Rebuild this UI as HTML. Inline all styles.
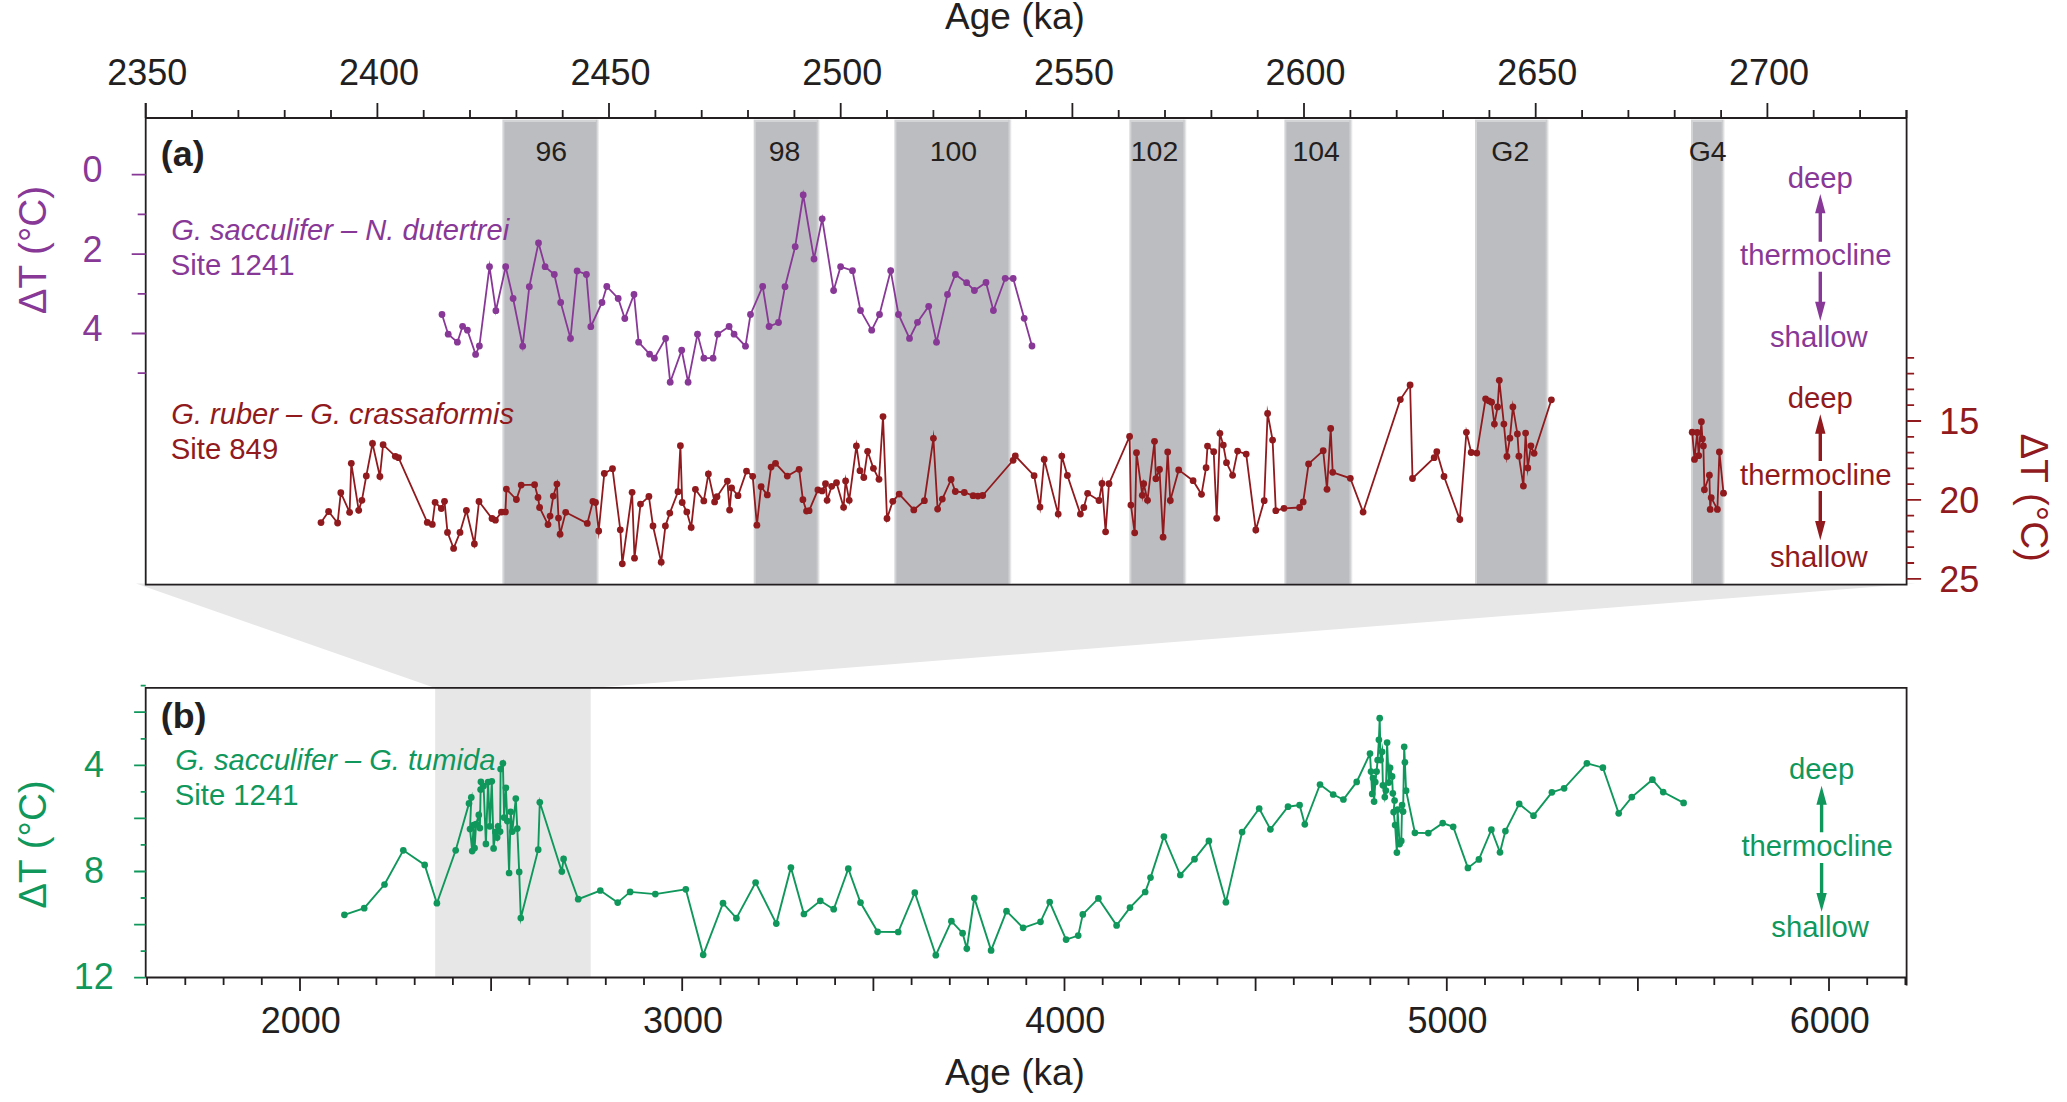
<!DOCTYPE html>
<html lang="en"><head><meta charset="utf-8"><title>Thermocline depth ΔT records</title>
<style>html,body{margin:0;padding:0;background:#fff}svg{display:block}</style></head>
<body>
<svg width="2067" height="1102" viewBox="0 0 2067 1102" font-family='"Liberation Sans", sans-serif'>
<rect width="2067" height="1102" fill="#fff"/>
<polygon points="136,583.6 1916,583.6 590.7,687.9 435.2,687.9" fill="#e7e7e8"/>
<rect x="435.2" y="687.9" width="155.5" height="289.6" fill="#e7e7e8"/>
<defs><linearGradient id="gr" x1="0" x2="1" y1="0" y2="0"><stop offset="0" stop-color="#bcbdc0"/><stop offset="1" stop-color="#fff"/></linearGradient></defs>
<rect x="502.4" y="119.6" width="93.6" height="465.1" fill="#d3d4d6"/>
<rect x="504.4" y="122.0" width="91.6" height="462.7" fill="#bcbdc0"/>
<rect x="595.9" y="119.6" width="3.6" height="465.1" fill="url(#gr)"/>
<rect x="753.7" y="119.6" width="63.0" height="465.1" fill="#d3d4d6"/>
<rect x="755.7" y="122.0" width="61.0" height="462.7" fill="#bcbdc0"/>
<rect x="816.6" y="119.6" width="3.6" height="465.1" fill="url(#gr)"/>
<rect x="894.4" y="119.6" width="114.0" height="465.1" fill="#d3d4d6"/>
<rect x="896.4" y="122.0" width="112.0" height="462.7" fill="#bcbdc0"/>
<rect x="1008.3" y="119.6" width="3.6" height="465.1" fill="url(#gr)"/>
<rect x="1129.4" y="119.6" width="54.0" height="465.1" fill="#d3d4d6"/>
<rect x="1131.4" y="122.0" width="52.0" height="462.7" fill="#bcbdc0"/>
<rect x="1183.3" y="119.6" width="3.6" height="465.1" fill="url(#gr)"/>
<rect x="1284.4" y="119.6" width="65.0" height="465.1" fill="#d3d4d6"/>
<rect x="1286.4" y="122.0" width="63.0" height="462.7" fill="#bcbdc0"/>
<rect x="1349.3" y="119.6" width="3.6" height="465.1" fill="url(#gr)"/>
<rect x="1475.0" y="119.6" width="70.7" height="465.1" fill="#d3d4d6"/>
<rect x="1477.0" y="122.0" width="68.7" height="462.7" fill="#bcbdc0"/>
<rect x="1545.6" y="119.6" width="3.6" height="465.1" fill="url(#gr)"/>
<rect x="1691.0" y="119.6" width="30.7" height="465.1" fill="#d3d4d6"/>
<rect x="1693.0" y="122.0" width="28.7" height="462.7" fill="#bcbdc0"/>
<rect x="1721.6" y="119.6" width="3.6" height="465.1" fill="url(#gr)"/>
<polyline fill="none" stroke="#883896" stroke-width="1.8" stroke-linejoin="miter" stroke-miterlimit="10" points="442.0,314.5 448.2,334.2 457.4,342.2 462.6,326.3 467.4,330.2 475.6,354.4 479.4,346.0 489.5,266.7 495.9,310.7 505.7,266.7 513.1,298.5 522.7,346.2 529.3,286.7 538.5,242.9 545.1,266.7 554.3,274.5 560.7,302.5 570.5,338.4 577.1,270.9 586.4,274.5 590.8,326.7 602.0,302.5 606.8,286.5 618.2,298.5 624.8,318.5 634.0,294.5 638.6,342.2 649.6,354.2 654.4,358.2 665.6,338.4 670.2,382.2 681.7,350.2 688.1,382.2 697.5,334.2 703.9,358.2 713.1,358.2 717.7,334.2 729.1,326.5 734.1,334.2 745.5,346.2 750.5,314.5 762.7,286.5 769.1,326.5 778.5,322.5 785.0,286.7 795.2,246.7 803.2,195.0 814.0,258.9 822.2,218.8 833.6,290.5 840.6,266.7 852.5,270.7 860.5,310.5 871.7,330.2 879.5,314.5 890.7,270.7 898.5,314.5 909.5,338.4 917.5,322.3 928.7,306.3 936.5,342.2 947.5,294.5 955.4,274.5 966.6,282.7 974.4,290.5 986.0,282.5 993.4,310.5 1005.2,278.3 1013.2,278.5 1024.2,318.3 1032.0,346.0"/><g fill="#883896"><circle cx="442.0" cy="314.5" r="3.4"/><circle cx="448.2" cy="334.2" r="3.4"/><circle cx="457.4" cy="342.2" r="3.4"/><circle cx="462.6" cy="326.3" r="3.4"/><circle cx="467.4" cy="330.2" r="3.4"/><circle cx="475.6" cy="354.4" r="3.4"/><circle cx="479.4" cy="346.0" r="3.4"/><circle cx="489.5" cy="266.7" r="3.4"/><circle cx="495.9" cy="310.7" r="3.4"/><circle cx="505.7" cy="266.7" r="3.4"/><circle cx="513.1" cy="298.5" r="3.4"/><circle cx="522.7" cy="346.2" r="3.4"/><circle cx="529.3" cy="286.7" r="3.4"/><circle cx="538.5" cy="242.9" r="3.4"/><circle cx="545.1" cy="266.7" r="3.4"/><circle cx="554.3" cy="274.5" r="3.4"/><circle cx="560.7" cy="302.5" r="3.4"/><circle cx="570.5" cy="338.4" r="3.4"/><circle cx="577.1" cy="270.9" r="3.4"/><circle cx="586.4" cy="274.5" r="3.4"/><circle cx="590.8" cy="326.7" r="3.4"/><circle cx="602.0" cy="302.5" r="3.4"/><circle cx="606.8" cy="286.5" r="3.4"/><circle cx="618.2" cy="298.5" r="3.4"/><circle cx="624.8" cy="318.5" r="3.4"/><circle cx="634.0" cy="294.5" r="3.4"/><circle cx="638.6" cy="342.2" r="3.4"/><circle cx="649.6" cy="354.2" r="3.4"/><circle cx="654.4" cy="358.2" r="3.4"/><circle cx="665.6" cy="338.4" r="3.4"/><circle cx="670.2" cy="382.2" r="3.4"/><circle cx="681.7" cy="350.2" r="3.4"/><circle cx="688.1" cy="382.2" r="3.4"/><circle cx="697.5" cy="334.2" r="3.4"/><circle cx="703.9" cy="358.2" r="3.4"/><circle cx="713.1" cy="358.2" r="3.4"/><circle cx="717.7" cy="334.2" r="3.4"/><circle cx="729.1" cy="326.5" r="3.4"/><circle cx="734.1" cy="334.2" r="3.4"/><circle cx="745.5" cy="346.2" r="3.4"/><circle cx="750.5" cy="314.5" r="3.4"/><circle cx="762.7" cy="286.5" r="3.4"/><circle cx="769.1" cy="326.5" r="3.4"/><circle cx="778.5" cy="322.5" r="3.4"/><circle cx="785.0" cy="286.7" r="3.4"/><circle cx="795.2" cy="246.7" r="3.4"/><circle cx="803.2" cy="195.0" r="3.4"/><circle cx="814.0" cy="258.9" r="3.4"/><circle cx="822.2" cy="218.8" r="3.4"/><circle cx="833.6" cy="290.5" r="3.4"/><circle cx="840.6" cy="266.7" r="3.4"/><circle cx="852.5" cy="270.7" r="3.4"/><circle cx="860.5" cy="310.5" r="3.4"/><circle cx="871.7" cy="330.2" r="3.4"/><circle cx="879.5" cy="314.5" r="3.4"/><circle cx="890.7" cy="270.7" r="3.4"/><circle cx="898.5" cy="314.5" r="3.4"/><circle cx="909.5" cy="338.4" r="3.4"/><circle cx="917.5" cy="322.3" r="3.4"/><circle cx="928.7" cy="306.3" r="3.4"/><circle cx="936.5" cy="342.2" r="3.4"/><circle cx="947.5" cy="294.5" r="3.4"/><circle cx="955.4" cy="274.5" r="3.4"/><circle cx="966.6" cy="282.7" r="3.4"/><circle cx="974.4" cy="290.5" r="3.4"/><circle cx="986.0" cy="282.5" r="3.4"/><circle cx="993.4" cy="310.5" r="3.4"/><circle cx="1005.2" cy="278.3" r="3.4"/><circle cx="1013.2" cy="278.5" r="3.4"/><circle cx="1024.2" cy="318.3" r="3.4"/><circle cx="1032.0" cy="346.0" r="3.4"/></g>
<polyline fill="none" stroke="#901a1d" stroke-width="1.8" stroke-linejoin="miter" stroke-miterlimit="10" points="321.0,522.6 328.6,511.5 337.6,523.0 340.8,492.7 349.6,512.3 351.3,463.3 358.7,510.3 361.9,500.3 366.3,475.9 372.5,443.5 379.9,476.5 383.1,444.7 395.3,456.3 398.5,457.7 427.3,522.4 432.3,524.4 435.1,502.3 441.3,508.5 444.5,501.3 447.5,532.4 453.6,548.4 460.0,532.4 466.4,510.5 474.4,544.0 479.0,501.5 492.0,518.5 495.4,520.2 501.4,512.1 505.4,511.9 506.4,489.1 516.4,499.5 521.2,485.1 534.6,484.7 538.0,497.5 539.6,507.5 548.0,524.6 550.1,516.1 553.3,496.1 556.9,484.1 558.5,518.1 560.1,534.2 565.7,512.3 587.3,523.4 592.9,501.5 595.5,502.5 598.7,531.0 604.3,473.5 612.5,468.7 620.3,529.8 622.3,563.8 632.1,492.3 634.5,558.2 640.5,504.1 648.9,496.5 653.0,526.0 661.2,562.2 665.4,526.0 669.8,513.1 678.0,491.7 680.4,445.7 682.2,502.5 686.8,511.9 691.2,527.4 695.4,489.3 703.8,500.9 708.4,473.9 714.6,501.9 717.0,496.7 727.4,481.1 729.6,510.1 731.6,487.9 738.0,495.7 746.5,471.1 752.7,476.3 756.9,525.2 761.1,486.7 767.3,494.9 771.1,467.1 775.5,463.3 787.3,476.1 799.1,469.3 802.9,499.7 806.5,511.1 809.1,510.7 817.9,489.9 822.1,490.9 825.5,483.7 827.1,500.3 831.7,486.3 836.5,482.7 843.6,507.3 845.6,480.9 849.2,500.3 856.4,445.9 860.0,470.7 863.8,477.5 867.6,451.3 873.4,468.3 879.0,479.3 883.0,416.6 887.0,518.5 892.8,501.3 899.2,494.1 913.8,509.9 924.4,500.7 933.4,438.3 937.6,509.1 942.3,499.1 951.1,479.5 955.3,491.5 964.3,492.5 973.1,495.7 977.9,496.1 982.7,495.5 1013.1,460.3 1015.3,455.9 1034.1,475.7 1040.0,507.1 1044.2,459.5 1058.2,514.1 1061.8,456.1 1067.4,475.5 1080.4,514.1 1083.8,507.5 1087.6,493.3 1099.0,500.5 1102.0,483.5 1105.6,531.8 1109.0,483.7 1129.6,436.5 1130.9,505.1 1134.7,532.8 1136.5,452.7 1142.3,495.3 1143.7,483.7 1147.5,500.3 1154.5,441.3 1155.9,478.7 1159.5,469.5 1163.1,537.2 1167.7,451.9 1170.3,500.5 1178.7,469.9 1193.1,480.7 1201.5,494.3 1206.1,467.7 1207.5,446.1 1213.7,451.7 1216.7,518.3 1219.9,433.3 1223.3,445.1 1226.5,462.7 1232.6,475.3 1237.6,451.1 1246.2,454.1 1255.8,530.0 1264.2,500.7 1267.6,413.4 1272.6,440.1 1275.8,510.7 1284.0,508.3 1299.6,507.5 1303.2,501.9 1308.6,463.9 1323.2,450.7 1327.0,489.3 1330.7,428.5 1332.7,472.3 1350.3,478.3 1363.1,512.1 1400.3,399.6 1410.1,385.0 1412.5,478.5 1434.2,457.7 1436.8,451.7 1444.0,476.5 1459.8,519.5 1466.4,432.3 1471.2,452.5 1476.8,453.1 1485.6,398.8 1488.8,400.8 1491.6,402.2 1494.4,424.1 1497.6,406.9 1499.3,380.3 1503.9,424.1 1506.9,456.4 1509.9,438.2 1512.9,406.9 1517.4,433.9 1518.9,456.2 1523.4,486.0 1525.6,433.1 1527.8,467.9 1530.9,445.8 1534.1,453.3 1551.4,399.8"/><g fill="#901a1d"><circle cx="321.0" cy="522.6" r="3.4"/><circle cx="328.6" cy="511.5" r="3.4"/><circle cx="337.6" cy="523.0" r="3.4"/><circle cx="340.8" cy="492.7" r="3.4"/><circle cx="349.6" cy="512.3" r="3.4"/><circle cx="351.3" cy="463.3" r="3.4"/><circle cx="358.7" cy="510.3" r="3.4"/><circle cx="361.9" cy="500.3" r="3.4"/><circle cx="366.3" cy="475.9" r="3.4"/><circle cx="372.5" cy="443.5" r="3.4"/><circle cx="379.9" cy="476.5" r="3.4"/><circle cx="383.1" cy="444.7" r="3.4"/><circle cx="395.3" cy="456.3" r="3.4"/><circle cx="398.5" cy="457.7" r="3.4"/><circle cx="427.3" cy="522.4" r="3.4"/><circle cx="432.3" cy="524.4" r="3.4"/><circle cx="435.1" cy="502.3" r="3.4"/><circle cx="441.3" cy="508.5" r="3.4"/><circle cx="444.5" cy="501.3" r="3.4"/><circle cx="447.5" cy="532.4" r="3.4"/><circle cx="453.6" cy="548.4" r="3.4"/><circle cx="460.0" cy="532.4" r="3.4"/><circle cx="466.4" cy="510.5" r="3.4"/><circle cx="474.4" cy="544.0" r="3.4"/><circle cx="479.0" cy="501.5" r="3.4"/><circle cx="492.0" cy="518.5" r="3.4"/><circle cx="495.4" cy="520.2" r="3.4"/><circle cx="501.4" cy="512.1" r="3.4"/><circle cx="505.4" cy="511.9" r="3.4"/><circle cx="506.4" cy="489.1" r="3.4"/><circle cx="516.4" cy="499.5" r="3.4"/><circle cx="521.2" cy="485.1" r="3.4"/><circle cx="534.6" cy="484.7" r="3.4"/><circle cx="538.0" cy="497.5" r="3.4"/><circle cx="539.6" cy="507.5" r="3.4"/><circle cx="548.0" cy="524.6" r="3.4"/><circle cx="550.1" cy="516.1" r="3.4"/><circle cx="553.3" cy="496.1" r="3.4"/><circle cx="556.9" cy="484.1" r="3.4"/><circle cx="558.5" cy="518.1" r="3.4"/><circle cx="560.1" cy="534.2" r="3.4"/><circle cx="565.7" cy="512.3" r="3.4"/><circle cx="587.3" cy="523.4" r="3.4"/><circle cx="592.9" cy="501.5" r="3.4"/><circle cx="595.5" cy="502.5" r="3.4"/><circle cx="598.7" cy="531.0" r="3.4"/><circle cx="604.3" cy="473.5" r="3.4"/><circle cx="612.5" cy="468.7" r="3.4"/><circle cx="620.3" cy="529.8" r="3.4"/><circle cx="622.3" cy="563.8" r="3.4"/><circle cx="632.1" cy="492.3" r="3.4"/><circle cx="634.5" cy="558.2" r="3.4"/><circle cx="640.5" cy="504.1" r="3.4"/><circle cx="648.9" cy="496.5" r="3.4"/><circle cx="653.0" cy="526.0" r="3.4"/><circle cx="661.2" cy="562.2" r="3.4"/><circle cx="665.4" cy="526.0" r="3.4"/><circle cx="669.8" cy="513.1" r="3.4"/><circle cx="678.0" cy="491.7" r="3.4"/><circle cx="680.4" cy="445.7" r="3.4"/><circle cx="682.2" cy="502.5" r="3.4"/><circle cx="686.8" cy="511.9" r="3.4"/><circle cx="691.2" cy="527.4" r="3.4"/><circle cx="695.4" cy="489.3" r="3.4"/><circle cx="703.8" cy="500.9" r="3.4"/><circle cx="708.4" cy="473.9" r="3.4"/><circle cx="714.6" cy="501.9" r="3.4"/><circle cx="717.0" cy="496.7" r="3.4"/><circle cx="727.4" cy="481.1" r="3.4"/><circle cx="729.6" cy="510.1" r="3.4"/><circle cx="731.6" cy="487.9" r="3.4"/><circle cx="738.0" cy="495.7" r="3.4"/><circle cx="746.5" cy="471.1" r="3.4"/><circle cx="752.7" cy="476.3" r="3.4"/><circle cx="756.9" cy="525.2" r="3.4"/><circle cx="761.1" cy="486.7" r="3.4"/><circle cx="767.3" cy="494.9" r="3.4"/><circle cx="771.1" cy="467.1" r="3.4"/><circle cx="775.5" cy="463.3" r="3.4"/><circle cx="787.3" cy="476.1" r="3.4"/><circle cx="799.1" cy="469.3" r="3.4"/><circle cx="802.9" cy="499.7" r="3.4"/><circle cx="806.5" cy="511.1" r="3.4"/><circle cx="809.1" cy="510.7" r="3.4"/><circle cx="817.9" cy="489.9" r="3.4"/><circle cx="822.1" cy="490.9" r="3.4"/><circle cx="825.5" cy="483.7" r="3.4"/><circle cx="827.1" cy="500.3" r="3.4"/><circle cx="831.7" cy="486.3" r="3.4"/><circle cx="836.5" cy="482.7" r="3.4"/><circle cx="843.6" cy="507.3" r="3.4"/><circle cx="845.6" cy="480.9" r="3.4"/><circle cx="849.2" cy="500.3" r="3.4"/><circle cx="856.4" cy="445.9" r="3.4"/><circle cx="860.0" cy="470.7" r="3.4"/><circle cx="863.8" cy="477.5" r="3.4"/><circle cx="867.6" cy="451.3" r="3.4"/><circle cx="873.4" cy="468.3" r="3.4"/><circle cx="879.0" cy="479.3" r="3.4"/><circle cx="883.0" cy="416.6" r="3.4"/><circle cx="887.0" cy="518.5" r="3.4"/><circle cx="892.8" cy="501.3" r="3.4"/><circle cx="899.2" cy="494.1" r="3.4"/><circle cx="913.8" cy="509.9" r="3.4"/><circle cx="924.4" cy="500.7" r="3.4"/><circle cx="933.4" cy="438.3" r="3.4"/><circle cx="937.6" cy="509.1" r="3.4"/><circle cx="942.3" cy="499.1" r="3.4"/><circle cx="951.1" cy="479.5" r="3.4"/><circle cx="955.3" cy="491.5" r="3.4"/><circle cx="964.3" cy="492.5" r="3.4"/><circle cx="973.1" cy="495.7" r="3.4"/><circle cx="977.9" cy="496.1" r="3.4"/><circle cx="982.7" cy="495.5" r="3.4"/><circle cx="1013.1" cy="460.3" r="3.4"/><circle cx="1015.3" cy="455.9" r="3.4"/><circle cx="1034.1" cy="475.7" r="3.4"/><circle cx="1040.0" cy="507.1" r="3.4"/><circle cx="1044.2" cy="459.5" r="3.4"/><circle cx="1058.2" cy="514.1" r="3.4"/><circle cx="1061.8" cy="456.1" r="3.4"/><circle cx="1067.4" cy="475.5" r="3.4"/><circle cx="1080.4" cy="514.1" r="3.4"/><circle cx="1083.8" cy="507.5" r="3.4"/><circle cx="1087.6" cy="493.3" r="3.4"/><circle cx="1099.0" cy="500.5" r="3.4"/><circle cx="1102.0" cy="483.5" r="3.4"/><circle cx="1105.6" cy="531.8" r="3.4"/><circle cx="1109.0" cy="483.7" r="3.4"/><circle cx="1129.6" cy="436.5" r="3.4"/><circle cx="1130.9" cy="505.1" r="3.4"/><circle cx="1134.7" cy="532.8" r="3.4"/><circle cx="1136.5" cy="452.7" r="3.4"/><circle cx="1142.3" cy="495.3" r="3.4"/><circle cx="1143.7" cy="483.7" r="3.4"/><circle cx="1147.5" cy="500.3" r="3.4"/><circle cx="1154.5" cy="441.3" r="3.4"/><circle cx="1155.9" cy="478.7" r="3.4"/><circle cx="1159.5" cy="469.5" r="3.4"/><circle cx="1163.1" cy="537.2" r="3.4"/><circle cx="1167.7" cy="451.9" r="3.4"/><circle cx="1170.3" cy="500.5" r="3.4"/><circle cx="1178.7" cy="469.9" r="3.4"/><circle cx="1193.1" cy="480.7" r="3.4"/><circle cx="1201.5" cy="494.3" r="3.4"/><circle cx="1206.1" cy="467.7" r="3.4"/><circle cx="1207.5" cy="446.1" r="3.4"/><circle cx="1213.7" cy="451.7" r="3.4"/><circle cx="1216.7" cy="518.3" r="3.4"/><circle cx="1219.9" cy="433.3" r="3.4"/><circle cx="1223.3" cy="445.1" r="3.4"/><circle cx="1226.5" cy="462.7" r="3.4"/><circle cx="1232.6" cy="475.3" r="3.4"/><circle cx="1237.6" cy="451.1" r="3.4"/><circle cx="1246.2" cy="454.1" r="3.4"/><circle cx="1255.8" cy="530.0" r="3.4"/><circle cx="1264.2" cy="500.7" r="3.4"/><circle cx="1267.6" cy="413.4" r="3.4"/><circle cx="1272.6" cy="440.1" r="3.4"/><circle cx="1275.8" cy="510.7" r="3.4"/><circle cx="1284.0" cy="508.3" r="3.4"/><circle cx="1299.6" cy="507.5" r="3.4"/><circle cx="1303.2" cy="501.9" r="3.4"/><circle cx="1308.6" cy="463.9" r="3.4"/><circle cx="1323.2" cy="450.7" r="3.4"/><circle cx="1327.0" cy="489.3" r="3.4"/><circle cx="1330.7" cy="428.5" r="3.4"/><circle cx="1332.7" cy="472.3" r="3.4"/><circle cx="1350.3" cy="478.3" r="3.4"/><circle cx="1363.1" cy="512.1" r="3.4"/><circle cx="1400.3" cy="399.6" r="3.4"/><circle cx="1410.1" cy="385.0" r="3.4"/><circle cx="1412.5" cy="478.5" r="3.4"/><circle cx="1434.2" cy="457.7" r="3.4"/><circle cx="1436.8" cy="451.7" r="3.4"/><circle cx="1444.0" cy="476.5" r="3.4"/><circle cx="1459.8" cy="519.5" r="3.4"/><circle cx="1466.4" cy="432.3" r="3.4"/><circle cx="1471.2" cy="452.5" r="3.4"/><circle cx="1476.8" cy="453.1" r="3.4"/><circle cx="1485.6" cy="398.8" r="3.4"/><circle cx="1488.8" cy="400.8" r="3.4"/><circle cx="1491.6" cy="402.2" r="3.4"/><circle cx="1494.4" cy="424.1" r="3.4"/><circle cx="1497.6" cy="406.9" r="3.4"/><circle cx="1499.3" cy="380.3" r="3.4"/><circle cx="1503.9" cy="424.1" r="3.4"/><circle cx="1506.9" cy="456.4" r="3.4"/><circle cx="1509.9" cy="438.2" r="3.4"/><circle cx="1512.9" cy="406.9" r="3.4"/><circle cx="1517.4" cy="433.9" r="3.4"/><circle cx="1518.9" cy="456.2" r="3.4"/><circle cx="1523.4" cy="486.0" r="3.4"/><circle cx="1525.6" cy="433.1" r="3.4"/><circle cx="1527.8" cy="467.9" r="3.4"/><circle cx="1530.9" cy="445.8" r="3.4"/><circle cx="1534.1" cy="453.3" r="3.4"/><circle cx="1551.4" cy="399.8" r="3.4"/></g>
<polyline fill="none" stroke="#901a1d" stroke-width="1.8" stroke-linejoin="miter" stroke-miterlimit="10" points="1692.2,432.2 1694.5,459.4 1697.2,432.5 1698.7,455.7 1701.4,421.7 1702.4,438.9 1703.4,445.9 1704.4,489.7 1709.4,475.2 1710.2,509.4 1711.2,497.7 1717.4,509.4 1719.4,452.0 1723.5,493.2"/><g fill="#901a1d"><circle cx="1692.2" cy="432.2" r="3.4"/><circle cx="1694.5" cy="459.4" r="3.4"/><circle cx="1697.2" cy="432.5" r="3.4"/><circle cx="1698.7" cy="455.7" r="3.4"/><circle cx="1701.4" cy="421.7" r="3.4"/><circle cx="1702.4" cy="438.9" r="3.4"/><circle cx="1703.4" cy="445.9" r="3.4"/><circle cx="1704.4" cy="489.7" r="3.4"/><circle cx="1709.4" cy="475.2" r="3.4"/><circle cx="1710.2" cy="509.4" r="3.4"/><circle cx="1711.2" cy="497.7" r="3.4"/><circle cx="1717.4" cy="509.4" r="3.4"/><circle cx="1719.4" cy="452.0" r="3.4"/><circle cx="1723.5" cy="493.2" r="3.4"/></g>
<polyline fill="none" stroke="#10985c" stroke-width="1.9" stroke-linejoin="miter" stroke-miterlimit="10" points="344.4,914.8 364.2,908.2 384.5,884.5 403.3,850.3 424.7,864.9 436.9,903.2 455.7,850.3 469.0,803.4 471.3,797.4 470.0,829.1 472.2,851.1 473.6,825.1 474.6,848.1 476.1,824.1 478.8,814.9 479.9,828.1 480.6,789.6 480.9,781.8 483.6,786.0 485.9,843.9 488.1,782.0 489.8,826.3 491.8,781.3 493.6,848.4 495.4,832.1 497.1,837.6 498.1,826.3 500.1,831.6 500.6,769.0 502.9,763.3 504.1,817.6 505.9,787.8 507.3,821.1 509.1,873.0 510.7,811.8 512.3,831.6 515.8,798.6 517.3,828.6 519.2,871.9 520.8,918.0 538.2,849.7 539.8,802.3 561.8,871.5 563.6,858.9 578.2,899.2 600.3,890.5 617.7,902.6 630.1,891.9 655.3,894.1 685.8,889.3 703.2,954.8 723.0,903.2 736.4,918.2 755.6,882.5 776.3,923.6 790.9,867.5 803.9,914.0 820.3,900.8 833.7,909.2 848.3,868.7 860.5,902.6 877.6,931.8 898.2,932.0 914.8,892.7 935.8,955.2 951.4,921.2 962.6,933.2 966.8,948.6 974.3,898.0 991.1,950.4 1006.5,911.2 1023.1,927.8 1040.5,921.8 1049.7,902.0 1066.1,939.6 1078.2,935.6 1082.8,914.4 1098.4,898.4 1116.6,925.4 1130.0,907.6 1145.2,892.0 1150.5,877.6 1163.9,836.5 1180.3,875.0 1194.5,859.2 1208.9,840.9 1225.9,902.2 1242.1,832.1 1259.2,808.5 1270.4,829.3 1288.0,806.7 1299.6,805.1 1304.8,824.3 1320.0,784.5 1333.2,794.5 1343.4,799.5 1356.7,781.9 1370.0,753.6 1371.0,771.6 1372.2,793.9 1373.0,778.1 1374.1,801.6 1375.3,782.1 1376.6,771.6 1377.6,760.1 1378.9,739.8 1379.7,718.2 1380.6,760.1 1382.1,751.8 1382.9,785.3 1384.8,797.1 1385.9,790.6 1387.1,742.6 1388.8,782.6 1390.1,767.8 1392.1,776.4 1392.8,793.3 1394.6,800.5 1393.6,812.1 1395.1,825.1 1396.9,852.6 1397.6,809.6 1399.6,844.1 1401.3,840.9 1402.1,805.0 1403.1,811.6 1404.2,746.8 1404.9,762.3 1406.1,790.7 1414.9,832.8 1428.3,833.1 1442.7,823.1 1453.2,826.8 1467.9,867.9 1478.9,859.4 1491.4,829.7 1500.0,852.3 1505.4,831.1 1519.2,803.9 1533.5,815.7 1551.9,792.3 1564.1,788.3 1586.9,763.3 1602.9,767.7 1618.7,813.3 1631.8,797.1 1652.4,779.7 1663.2,792.1 1683.6,802.9"/><g fill="#10985c"><circle cx="344.4" cy="914.8" r="3.35"/><circle cx="364.2" cy="908.2" r="3.35"/><circle cx="384.5" cy="884.5" r="3.35"/><circle cx="403.3" cy="850.3" r="3.35"/><circle cx="424.7" cy="864.9" r="3.35"/><circle cx="436.9" cy="903.2" r="3.35"/><circle cx="455.7" cy="850.3" r="3.35"/><circle cx="469.0" cy="803.4" r="3.35"/><circle cx="471.3" cy="797.4" r="3.35"/><circle cx="470.0" cy="829.1" r="3.35"/><circle cx="472.2" cy="851.1" r="3.35"/><circle cx="473.6" cy="825.1" r="3.35"/><circle cx="474.6" cy="848.1" r="3.35"/><circle cx="476.1" cy="824.1" r="3.35"/><circle cx="478.8" cy="814.9" r="3.35"/><circle cx="479.9" cy="828.1" r="3.35"/><circle cx="480.6" cy="789.6" r="3.35"/><circle cx="480.9" cy="781.8" r="3.35"/><circle cx="483.6" cy="786.0" r="3.35"/><circle cx="485.9" cy="843.9" r="3.35"/><circle cx="488.1" cy="782.0" r="3.35"/><circle cx="489.8" cy="826.3" r="3.35"/><circle cx="491.8" cy="781.3" r="3.35"/><circle cx="493.6" cy="848.4" r="3.35"/><circle cx="495.4" cy="832.1" r="3.35"/><circle cx="497.1" cy="837.6" r="3.35"/><circle cx="498.1" cy="826.3" r="3.35"/><circle cx="500.1" cy="831.6" r="3.35"/><circle cx="500.6" cy="769.0" r="3.35"/><circle cx="502.9" cy="763.3" r="3.35"/><circle cx="504.1" cy="817.6" r="3.35"/><circle cx="505.9" cy="787.8" r="3.35"/><circle cx="507.3" cy="821.1" r="3.35"/><circle cx="509.1" cy="873.0" r="3.35"/><circle cx="510.7" cy="811.8" r="3.35"/><circle cx="512.3" cy="831.6" r="3.35"/><circle cx="515.8" cy="798.6" r="3.35"/><circle cx="517.3" cy="828.6" r="3.35"/><circle cx="519.2" cy="871.9" r="3.35"/><circle cx="520.8" cy="918.0" r="3.35"/><circle cx="538.2" cy="849.7" r="3.35"/><circle cx="539.8" cy="802.3" r="3.35"/><circle cx="561.8" cy="871.5" r="3.35"/><circle cx="563.6" cy="858.9" r="3.35"/><circle cx="578.2" cy="899.2" r="3.35"/><circle cx="600.3" cy="890.5" r="3.35"/><circle cx="617.7" cy="902.6" r="3.35"/><circle cx="630.1" cy="891.9" r="3.35"/><circle cx="655.3" cy="894.1" r="3.35"/><circle cx="685.8" cy="889.3" r="3.35"/><circle cx="703.2" cy="954.8" r="3.35"/><circle cx="723.0" cy="903.2" r="3.35"/><circle cx="736.4" cy="918.2" r="3.35"/><circle cx="755.6" cy="882.5" r="3.35"/><circle cx="776.3" cy="923.6" r="3.35"/><circle cx="790.9" cy="867.5" r="3.35"/><circle cx="803.9" cy="914.0" r="3.35"/><circle cx="820.3" cy="900.8" r="3.35"/><circle cx="833.7" cy="909.2" r="3.35"/><circle cx="848.3" cy="868.7" r="3.35"/><circle cx="860.5" cy="902.6" r="3.35"/><circle cx="877.6" cy="931.8" r="3.35"/><circle cx="898.2" cy="932.0" r="3.35"/><circle cx="914.8" cy="892.7" r="3.35"/><circle cx="935.8" cy="955.2" r="3.35"/><circle cx="951.4" cy="921.2" r="3.35"/><circle cx="962.6" cy="933.2" r="3.35"/><circle cx="966.8" cy="948.6" r="3.35"/><circle cx="974.3" cy="898.0" r="3.35"/><circle cx="991.1" cy="950.4" r="3.35"/><circle cx="1006.5" cy="911.2" r="3.35"/><circle cx="1023.1" cy="927.8" r="3.35"/><circle cx="1040.5" cy="921.8" r="3.35"/><circle cx="1049.7" cy="902.0" r="3.35"/><circle cx="1066.1" cy="939.6" r="3.35"/><circle cx="1078.2" cy="935.6" r="3.35"/><circle cx="1082.8" cy="914.4" r="3.35"/><circle cx="1098.4" cy="898.4" r="3.35"/><circle cx="1116.6" cy="925.4" r="3.35"/><circle cx="1130.0" cy="907.6" r="3.35"/><circle cx="1145.2" cy="892.0" r="3.35"/><circle cx="1150.5" cy="877.6" r="3.35"/><circle cx="1163.9" cy="836.5" r="3.35"/><circle cx="1180.3" cy="875.0" r="3.35"/><circle cx="1194.5" cy="859.2" r="3.35"/><circle cx="1208.9" cy="840.9" r="3.35"/><circle cx="1225.9" cy="902.2" r="3.35"/><circle cx="1242.1" cy="832.1" r="3.35"/><circle cx="1259.2" cy="808.5" r="3.35"/><circle cx="1270.4" cy="829.3" r="3.35"/><circle cx="1288.0" cy="806.7" r="3.35"/><circle cx="1299.6" cy="805.1" r="3.35"/><circle cx="1304.8" cy="824.3" r="3.35"/><circle cx="1320.0" cy="784.5" r="3.35"/><circle cx="1333.2" cy="794.5" r="3.35"/><circle cx="1343.4" cy="799.5" r="3.35"/><circle cx="1356.7" cy="781.9" r="3.35"/><circle cx="1370.0" cy="753.6" r="3.35"/><circle cx="1371.0" cy="771.6" r="3.35"/><circle cx="1372.2" cy="793.9" r="3.35"/><circle cx="1373.0" cy="778.1" r="3.35"/><circle cx="1374.1" cy="801.6" r="3.35"/><circle cx="1375.3" cy="782.1" r="3.35"/><circle cx="1376.6" cy="771.6" r="3.35"/><circle cx="1377.6" cy="760.1" r="3.35"/><circle cx="1378.9" cy="739.8" r="3.35"/><circle cx="1379.7" cy="718.2" r="3.35"/><circle cx="1380.6" cy="760.1" r="3.35"/><circle cx="1382.1" cy="751.8" r="3.35"/><circle cx="1382.9" cy="785.3" r="3.35"/><circle cx="1384.8" cy="797.1" r="3.35"/><circle cx="1385.9" cy="790.6" r="3.35"/><circle cx="1387.1" cy="742.6" r="3.35"/><circle cx="1388.8" cy="782.6" r="3.35"/><circle cx="1390.1" cy="767.8" r="3.35"/><circle cx="1392.1" cy="776.4" r="3.35"/><circle cx="1392.8" cy="793.3" r="3.35"/><circle cx="1394.6" cy="800.5" r="3.35"/><circle cx="1393.6" cy="812.1" r="3.35"/><circle cx="1395.1" cy="825.1" r="3.35"/><circle cx="1396.9" cy="852.6" r="3.35"/><circle cx="1397.6" cy="809.6" r="3.35"/><circle cx="1399.6" cy="844.1" r="3.35"/><circle cx="1401.3" cy="840.9" r="3.35"/><circle cx="1402.1" cy="805.0" r="3.35"/><circle cx="1403.1" cy="811.6" r="3.35"/><circle cx="1404.2" cy="746.8" r="3.35"/><circle cx="1404.9" cy="762.3" r="3.35"/><circle cx="1406.1" cy="790.7" r="3.35"/><circle cx="1414.9" cy="832.8" r="3.35"/><circle cx="1428.3" cy="833.1" r="3.35"/><circle cx="1442.7" cy="823.1" r="3.35"/><circle cx="1453.2" cy="826.8" r="3.35"/><circle cx="1467.9" cy="867.9" r="3.35"/><circle cx="1478.9" cy="859.4" r="3.35"/><circle cx="1491.4" cy="829.7" r="3.35"/><circle cx="1500.0" cy="852.3" r="3.35"/><circle cx="1505.4" cy="831.1" r="3.35"/><circle cx="1519.2" cy="803.9" r="3.35"/><circle cx="1533.5" cy="815.7" r="3.35"/><circle cx="1551.9" cy="792.3" r="3.35"/><circle cx="1564.1" cy="788.3" r="3.35"/><circle cx="1586.9" cy="763.3" r="3.35"/><circle cx="1602.9" cy="767.7" r="3.35"/><circle cx="1618.7" cy="813.3" r="3.35"/><circle cx="1631.8" cy="797.1" r="3.35"/><circle cx="1652.4" cy="779.7" r="3.35"/><circle cx="1663.2" cy="792.1" r="3.35"/><circle cx="1683.6" cy="802.9" r="3.35"/></g>
<g stroke="#231f20" stroke-width="1.8" fill="none">
<path d="M145.7,103.0 V584.7 H1906.6 V110.0 M145.7,118.0 H1906.6"/>
<path d="M145.7,977.5 V687.9 H1906.6 V985.5 M145.7,977.5 H1906.6"/>
<path d="M145.7,118.0 v-15 M192.0,118.0 v-8 M238.4,118.0 v-8 M284.7,118.0 v-8 M331.0,118.0 v-8 M377.4,118.0 v-15 M423.7,118.0 v-8 M470.0,118.0 v-8 M516.4,118.0 v-8 M562.7,118.0 v-8 M609.0,118.0 v-15 M655.4,118.0 v-8 M701.7,118.0 v-8 M748.0,118.0 v-8 M794.4,118.0 v-8 M840.7,118.0 v-15 M887.0,118.0 v-8 M933.4,118.0 v-8 M979.7,118.0 v-8 M1026.0,118.0 v-8 M1072.4,118.0 v-15 M1118.7,118.0 v-8 M1165.0,118.0 v-8 M1211.4,118.0 v-8 M1257.7,118.0 v-8 M1304.0,118.0 v-15 M1350.4,118.0 v-8 M1396.7,118.0 v-8 M1443.1,118.0 v-8 M1489.4,118.0 v-8 M1535.7,118.0 v-15 M1582.1,118.0 v-8 M1628.4,118.0 v-8 M1674.7,118.0 v-8 M1721.1,118.0 v-8 M1767.4,118.0 v-15 M1813.7,118.0 v-8 M1860.1,118.0 v-8 M1906.4,118.0 v-8 "/>
<path d="M147.1,977.5 v7.5 M185.3,977.5 v7.5 M223.6,977.5 v7.5 M261.8,977.5 v7.5 M300.0,977.5 v13.5 M338.2,977.5 v7.5 M376.4,977.5 v7.5 M414.7,977.5 v7.5 M452.9,977.5 v7.5 M491.1,977.5 v13.5 M529.4,977.5 v7.5 M567.6,977.5 v7.5 M605.8,977.5 v7.5 M644.0,977.5 v7.5 M682.2,977.5 v13.5 M720.5,977.5 v7.5 M758.7,977.5 v7.5 M796.9,977.5 v7.5 M835.1,977.5 v7.5 M873.4,977.5 v13.5 M911.6,977.5 v7.5 M949.8,977.5 v7.5 M988.0,977.5 v7.5 M1026.3,977.5 v7.5 M1064.5,977.5 v13.5 M1102.7,977.5 v7.5 M1140.9,977.5 v7.5 M1179.2,977.5 v7.5 M1217.4,977.5 v7.5 M1255.6,977.5 v13.5 M1293.8,977.5 v7.5 M1332.1,977.5 v7.5 M1370.3,977.5 v7.5 M1408.5,977.5 v7.5 M1446.8,977.5 v13.5 M1485.0,977.5 v7.5 M1523.2,977.5 v7.5 M1561.4,977.5 v7.5 M1599.6,977.5 v7.5 M1637.9,977.5 v13.5 M1676.1,977.5 v7.5 M1714.3,977.5 v7.5 M1752.5,977.5 v7.5 M1790.8,977.5 v7.5 M1829.0,977.5 v13.5 M1867.2,977.5 v7.5 M1905.4,977.5 v7.5 "/>
</g>
<path d="M145.7,174.7 h-14 M145.7,214.4 h-8 M145.7,254.1 h-14 M145.7,293.8 h-8 M145.7,333.5 h-14 M145.7,373.2 h-8 " stroke="#883896" stroke-width="1.8" fill="none"/>
<path d="M1906.6,357.9 h7.5 M1906.6,373.7 h7.5 M1906.6,389.4 h7.5 M1906.6,405.2 h7.5 M1906.6,421.0 h14.5 M1906.6,436.8 h7.5 M1906.6,452.6 h7.5 M1906.6,468.3 h7.5 M1906.6,484.1 h7.5 M1906.6,499.9 h14.5 M1906.6,515.7 h7.5 M1906.6,531.5 h7.5 M1906.6,547.2 h7.5 M1906.6,563.0 h7.5 M1906.6,578.8 h14.5 " stroke="#901a1d" stroke-width="1.8" fill="none"/>
<path d="M145.7,685.6 h-5 M145.7,712.2 h-11.6 M145.7,738.8 h-5 M145.7,765.3 h-11.6 M145.7,791.8 h-5 M145.7,818.4 h-11.6 M145.7,844.9 h-5 M145.7,871.5 h-11.6 M145.7,898.0 h-5 M145.7,924.6 h-11.6 M145.7,951.1 h-5 M145.7,977.7 h-11.6 " stroke="#10985c" stroke-width="1.8" fill="none"/>
<text transform="translate(1015,29.4) scale(1,1.0)" font-size="37" fill="#231f20" text-anchor="middle" >Age (ka)</text>
<text transform="translate(1015,1085.3) scale(1,1.0)" font-size="37" fill="#231f20" text-anchor="middle" >Age (ka)</text>
<text transform="translate(147.3,84.9) scale(1,1.0)" font-size="36" fill="#231f20" text-anchor="middle" >2350</text>
<text transform="translate(379.0,84.9) scale(1,1.0)" font-size="36" fill="#231f20" text-anchor="middle" >2400</text>
<text transform="translate(610.6,84.9) scale(1,1.0)" font-size="36" fill="#231f20" text-anchor="middle" >2450</text>
<text transform="translate(842.3,84.9) scale(1,1.0)" font-size="36" fill="#231f20" text-anchor="middle" >2500</text>
<text transform="translate(1074.0,84.9) scale(1,1.0)" font-size="36" fill="#231f20" text-anchor="middle" >2550</text>
<text transform="translate(1305.6,84.9) scale(1,1.0)" font-size="36" fill="#231f20" text-anchor="middle" >2600</text>
<text transform="translate(1537.3,84.9) scale(1,1.0)" font-size="36" fill="#231f20" text-anchor="middle" >2650</text>
<text transform="translate(1769.0,84.9) scale(1,1.0)" font-size="36" fill="#231f20" text-anchor="middle" >2700</text>
<text transform="translate(300.8,1032.9) scale(1,1.0)" font-size="36" fill="#231f20" text-anchor="middle" >2000</text>
<text transform="translate(683.0,1032.9) scale(1,1.0)" font-size="36" fill="#231f20" text-anchor="middle" >3000</text>
<text transform="translate(1065.3,1032.9) scale(1,1.0)" font-size="36" fill="#231f20" text-anchor="middle" >4000</text>
<text transform="translate(1447.5,1032.9) scale(1,1.0)" font-size="36" fill="#231f20" text-anchor="middle" >5000</text>
<text transform="translate(1829.8,1032.9) scale(1,1.0)" font-size="36" fill="#231f20" text-anchor="middle" >6000</text>
<text transform="translate(551.3,161.2) scale(1,1.0)" font-size="28.4" fill="#231f20" text-anchor="middle" >96</text>
<text transform="translate(784.5,161.2) scale(1,1.0)" font-size="28.4" fill="#231f20" text-anchor="middle" >98</text>
<text transform="translate(953.4,161.2) scale(1,1.0)" font-size="28.4" fill="#231f20" text-anchor="middle" >100</text>
<text transform="translate(1154.5,161.2) scale(1,1.0)" font-size="28.4" fill="#231f20" text-anchor="middle" >102</text>
<text transform="translate(1316.2,161.2) scale(1,1.0)" font-size="28.4" fill="#231f20" text-anchor="middle" >104</text>
<text transform="translate(1510.3,161.2) scale(1,1.0)" font-size="28.4" fill="#231f20" text-anchor="middle" >G2</text>
<text transform="translate(1707.7,161.2) scale(1,1.0)" font-size="28.4" fill="#231f20" text-anchor="middle" >G4</text>
<text transform="translate(160.8,166) scale(1,1.0)" font-size="35.8" fill="#231f20" text-anchor="start" font-weight="bold">(a)</text>
<text transform="translate(160.8,728.4) scale(1,1.0)" font-size="35.8" fill="#231f20" text-anchor="start" font-weight="bold">(b)</text>
<text transform="translate(102.5,182.29999999999998) scale(1,1.0)" font-size="36" fill="#883896" text-anchor="end" >0</text>
<text transform="translate(102.5,261.7) scale(1,1.0)" font-size="36" fill="#883896" text-anchor="end" >2</text>
<text transform="translate(102.5,341.1) scale(1,1.0)" font-size="36" fill="#883896" text-anchor="end" >4</text>
<text transform="translate(1939.2,433.9) scale(1,1.0)" font-size="36" fill="#901a1d" text-anchor="start" >15</text>
<text transform="translate(1939.2,512.8) scale(1,1.0)" font-size="36" fill="#901a1d" text-anchor="start" >20</text>
<text transform="translate(1939.2,591.6999999999999) scale(1,1.0)" font-size="36" fill="#901a1d" text-anchor="start" >25</text>
<text transform="translate(104,776.9) scale(1,1.0)" font-size="36" fill="#10985c" text-anchor="end" >4</text>
<text transform="translate(104,883.1) scale(1,1.0)" font-size="36" fill="#10985c" text-anchor="end" >8</text>
<text transform="translate(113.8,989.1) scale(1,1.0)" font-size="36" fill="#10985c" text-anchor="end" >12</text>
<text transform="translate(46.2,250.1) rotate(-90)" font-size="38.2" fill="#883896" text-anchor="middle" textLength="128.3" lengthAdjust="spacingAndGlyphs">ΔT (°C)</text>
<text transform="translate(46.2,844.5) rotate(-90)" font-size="38.2" fill="#10985c" text-anchor="middle" textLength="128.3" lengthAdjust="spacingAndGlyphs">ΔT (°C)</text>
<text transform="translate(2020.6,497.7) rotate(90)" font-size="38.2" fill="#901a1d" text-anchor="middle" textLength="128.3" lengthAdjust="spacingAndGlyphs">ΔT (°C)</text>
<text transform="translate(171.3,240.1) scale(1,1.02)" font-size="29.1" fill="#883896" text-anchor="start" font-style="italic">G. sacculifer – N. dutertrei</text>
<text transform="translate(170.7,274.8) scale(1,1.03)" font-size="29.3" fill="#883896" text-anchor="start" >Site 1241</text>
<text transform="translate(171.3,423.8) scale(1,1.02)" font-size="29.1" fill="#901a1d" text-anchor="start" font-style="italic">G. ruber – G. crassaformis</text>
<text transform="translate(170.7,458.8) scale(1,1.03)" font-size="29.3" fill="#901a1d" text-anchor="start" >Site 849</text>
<text transform="translate(175.3,769.8) scale(1,1.02)" font-size="29.1" fill="#10985c" text-anchor="start" font-style="italic">G. sacculifer – G. tumida</text>
<text transform="translate(174.7,804.8) scale(1,1.03)" font-size="29.3" fill="#10985c" text-anchor="start" >Site 1241</text>
<text transform="translate(1820.3,188.3) scale(1,1.0)" font-size="29.3" fill="#883896" text-anchor="middle" >deep</text><text transform="translate(1815.8,265) scale(1,1.0)" font-size="29.3" fill="#883896" text-anchor="middle" >thermocline</text><text transform="translate(1818.8,346.7) scale(1,1.0)" font-size="29.3" fill="#883896" text-anchor="middle" >shallow</text><path d="M1820.3,194 l5.2,19.30000000000001 h-3.5 V241.7 h-3.4 V213.3 h-3.5 z" fill="#883896"/><path d="M1820.3,321 l5.2,-19.30000000000001 h-3.5 V271.7 h-3.4 V301.7 h-3.5 z" fill="#883896"/>
<text transform="translate(1820.3,407.8) scale(1,1.0)" font-size="29.3" fill="#901a1d" text-anchor="middle" >deep</text><text transform="translate(1815.8,485.0) scale(1,1.0)" font-size="29.3" fill="#901a1d" text-anchor="middle" >thermocline</text><text transform="translate(1818.8,566.9) scale(1,1.0)" font-size="29.3" fill="#901a1d" text-anchor="middle" >shallow</text><path d="M1820.3,414.3 l5.2,19.399999999999977 h-3.5 V461 h-3.4 V433.7 h-3.5 z" fill="#901a1d"/><path d="M1820.3,540.3 l5.2,-19.299999999999955 h-3.5 V491 h-3.4 V521 h-3.5 z" fill="#901a1d"/>
<text transform="translate(1821.6,779) scale(1,1.0)" font-size="29.3" fill="#10985c" text-anchor="middle" >deep</text><text transform="translate(1817.1,855.7) scale(1,1.0)" font-size="29.3" fill="#10985c" text-anchor="middle" >thermocline</text><text transform="translate(1820.1,937.3) scale(1,1.0)" font-size="29.3" fill="#10985c" text-anchor="middle" >shallow</text><path d="M1821.6,785.7 l5.2,19.0 h-3.5 V832.3 h-3.4 V804.7 h-3.5 z" fill="#10985c"/><path d="M1821.6,911.7 l5.2,-18.700000000000045 h-3.5 V863 h-3.4 V893 h-3.5 z" fill="#10985c"/>
</svg>
</body></html>
